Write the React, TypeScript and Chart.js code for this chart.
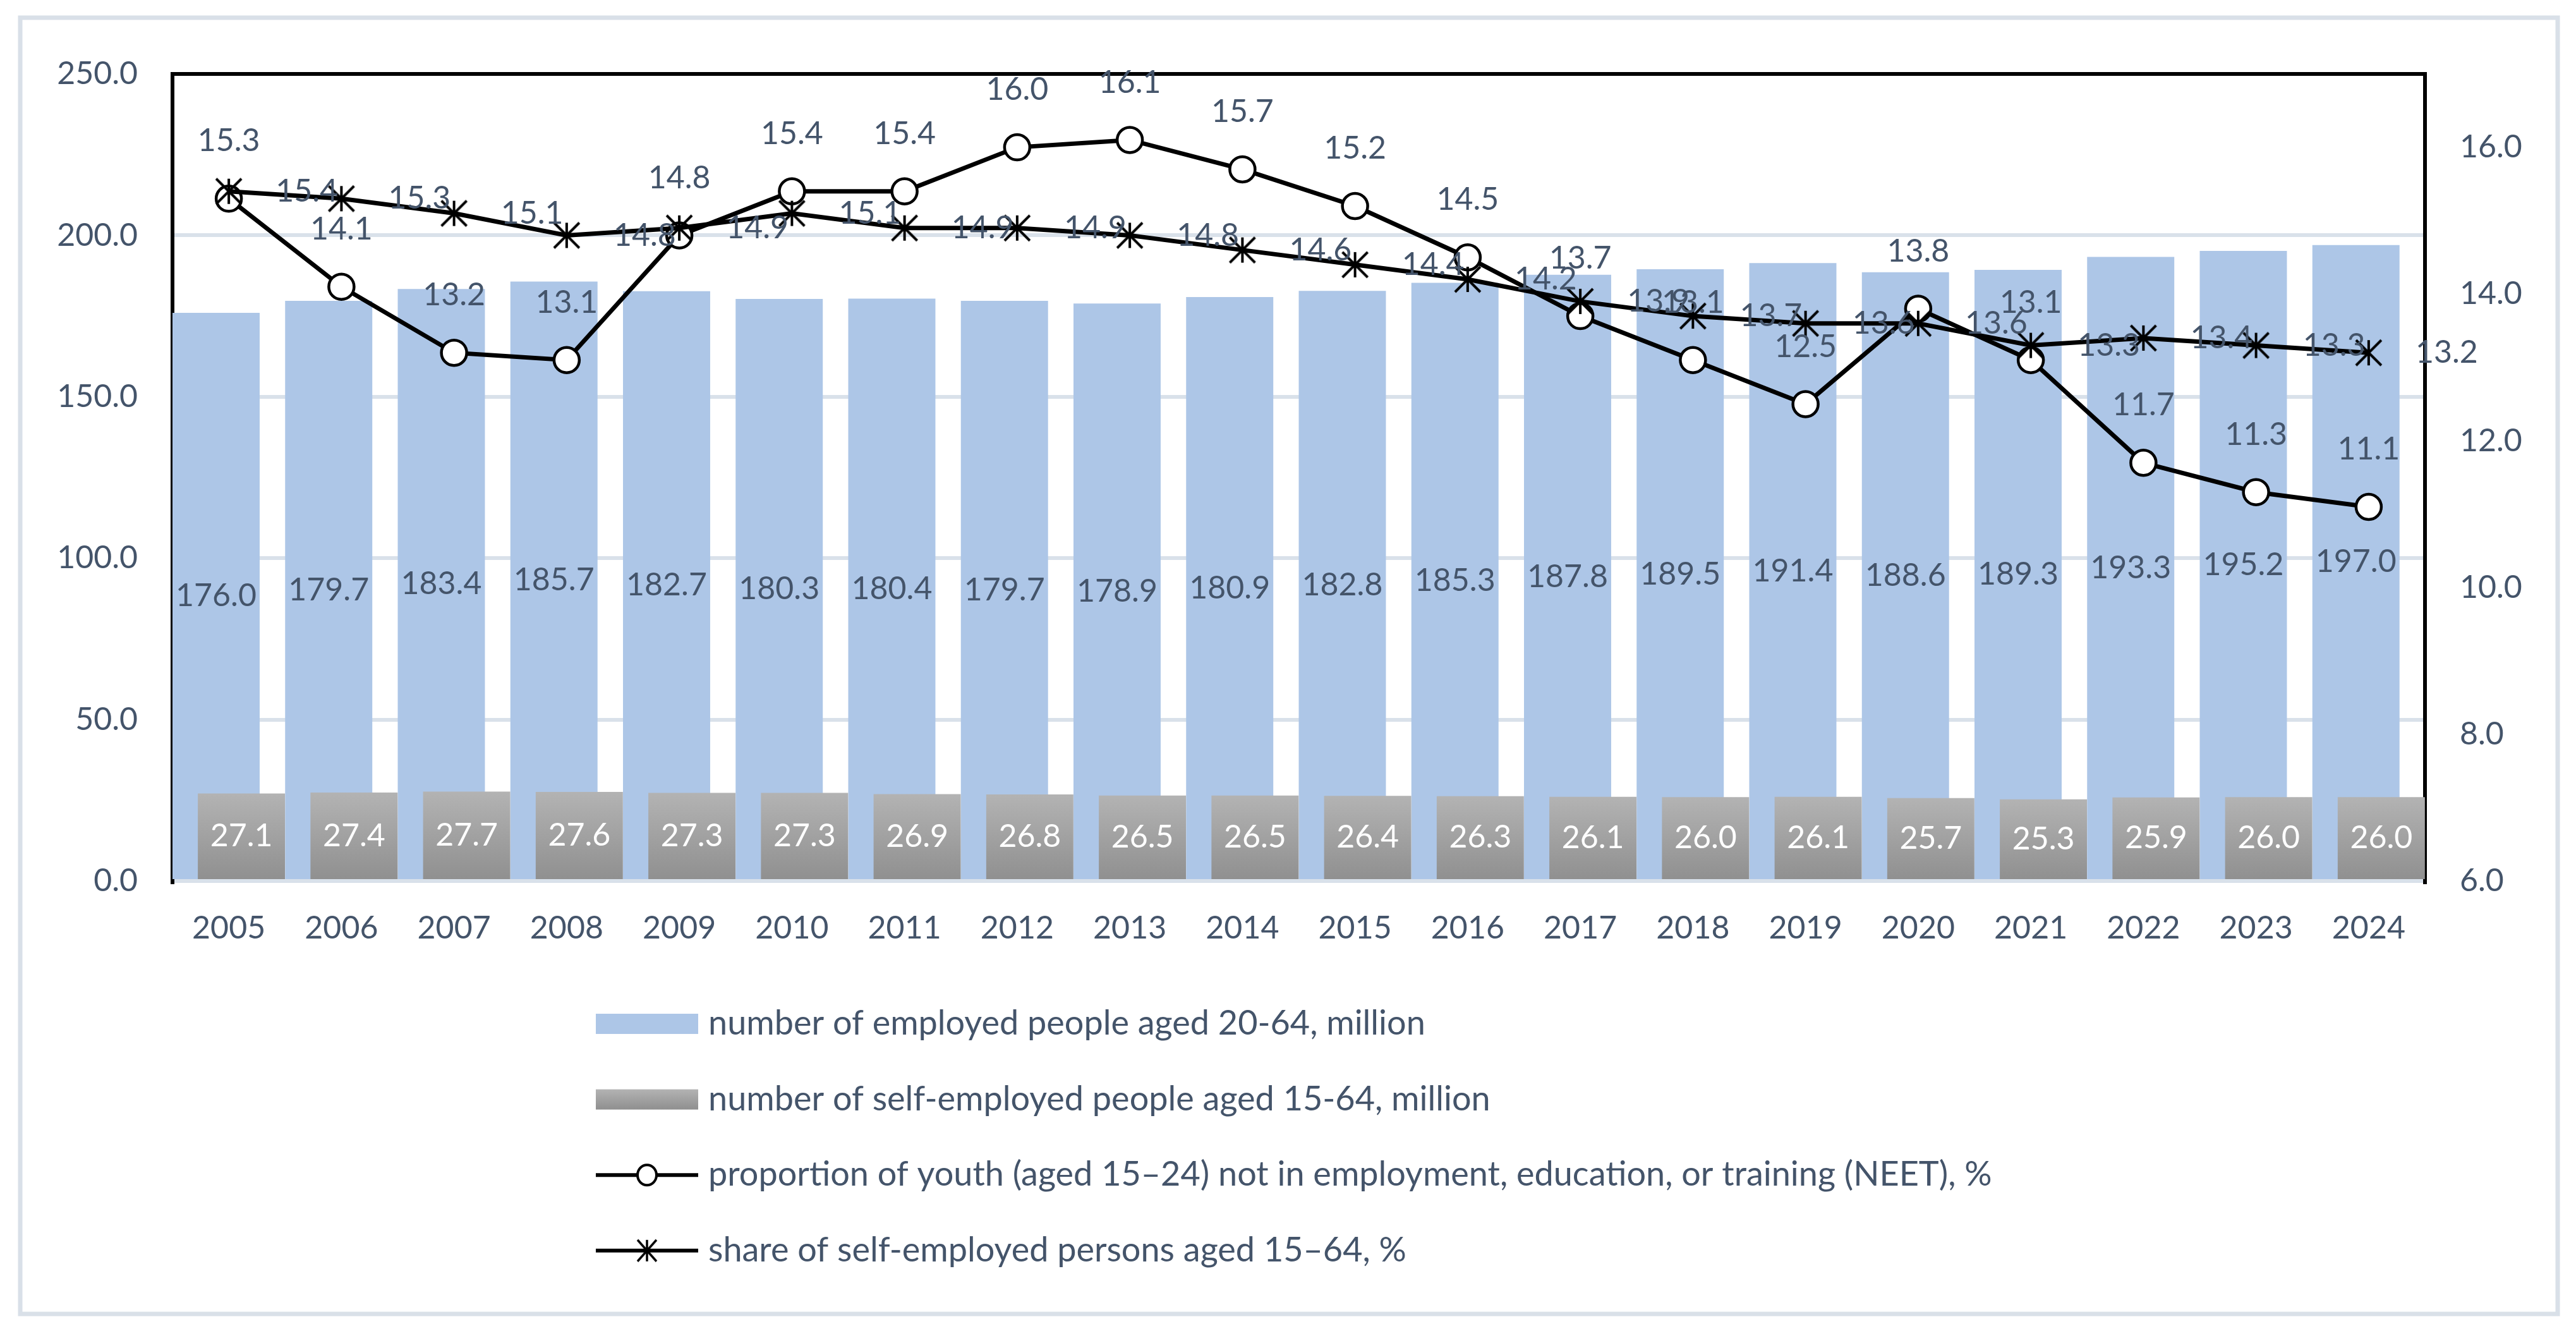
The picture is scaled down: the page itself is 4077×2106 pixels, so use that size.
import React, { useEffect, useRef } from 'react';
import { Chart, registerables } from 'chart.js';

Chart.register(...registerables);

// ---------------- data ----------------
const YEARS = ['2005', '2006', '2007', '2008', '2009', '2010', '2011', '2012', '2013', '2014',
  '2015', '2016', '2017', '2018', '2019', '2020', '2021', '2022', '2023', '2024'];
const EMPLOYED = [176.0, 179.7, 183.4, 185.7, 182.7, 180.3, 180.4, 179.7, 178.9, 180.9,
  182.8, 185.3, 187.8, 189.5, 191.4, 188.6, 189.3, 193.3, 195.2, 197.0];
const SELF_EMPLOYED = [27.1, 27.4, 27.7, 27.6, 27.3, 27.3, 26.9, 26.8, 26.5, 26.5,
  26.4, 26.3, 26.1, 26.0, 26.1, 25.7, 25.3, 25.9, 26.0, 26.0];
const NEET = [15.3, 14.1, 13.2, 13.1, 14.8, 15.4, 15.4, 16.0, 16.1, 15.7,
  15.2, 14.5, 13.7, 13.1, 12.5, 13.8, 13.1, 11.7, 11.3, 11.1];
const SELF_SHARE = [15.4, 15.3, 15.1, 14.8, 14.9, 15.1, 14.9, 14.9, 14.8, 14.6,
  14.4, 14.2, 13.9, 13.7, 13.6, 13.6, 13.3, 13.4, 13.3, 13.2];
const SERIES_NAMES = [
  'number of employed people aged 20-64, million',
  'number of self-employed people aged 15-64, million',
  'proportion of youth (aged 15\u201324) not in employment, education, or training (NEET), %',
  'share of self-employed persons aged 15\u201364, %',
];
const LEFT_AXIS = { min: 0, max: 250, step: 50 };
const RIGHT_AXIS = { min: 6, max: 17, step: 2 };

// ---------------- styles / layout ----------------
const W = 4077;
const H = 2106;
const FONT = 'Lato, "Open Sans", "Noto Sans", sans-serif';
const FS = 50;
const LEGEND_FS = 54;
const TEXT = '#44546A';
const BLUE = '#ADC6E7';
const GRAY_TOP = '#B3B3B3';
const GRAY_BOTTOM = '#8F8F8F';
const GRID = '#D9E1EA';
const FRAME = '#D9E0E8';
const BAR_SHIFT = [-0.113, 0.112]; // fraction of category width
const PLOT = { left: 273, right: 3838, top: 117, bottom: 1394 };
const LEGEND = { x: 943, y0: 1620, dy: 119.6, symW: 162, textX: 1121 };

function makeStar(size: number, rx: number, ry: number, lw: number) {
  const c = document.createElement('canvas');
  c.width = size;
  c.height = size;
  const g = c.getContext('2d')!;
  const m = size / 2;
  g.strokeStyle = '#000';
  g.lineWidth = lw;
  g.beginPath();
  g.moveTo(m, m - ry); g.lineTo(m, m + ry);
  g.moveTo(m - rx, m - ry); g.lineTo(m + rx, m + ry);
  g.moveTo(m + rx, m - ry); g.lineTo(m - rx, m + ry);
  g.stroke();
  return c;
}

const fmt = (v: number) => v.toFixed(1);

export default function App() {
  const ref = useRef<HTMLCanvasElement>(null);

  useEffect(() => {
    const canvas = ref.current!;
    const star = makeStar(50, 20, 20, 4);
    const starSmall = makeStar(40, 15, 17, 3.5);

    const grayFill = (c: any) => {
      const chart = c.chart;
      const y = chart.scales && chart.scales.y;
      if (!y || c.type !== 'data') return GRAY_TOP;
      const v = c.raw as number;
      const y0 = y.getPixelForValue(v);
      const y1 = y.getPixelForValue(0);
      if (!isFinite(y0) || !isFinite(y1) || y0 === y1) return GRAY_TOP;
      const g = chart.ctx.createLinearGradient(0, y0, 0, y1);
      g.addColorStop(0, GRAY_TOP);
      g.addColorStop(1, GRAY_BOTTOM);
      return g;
    };

    const framePlugin = {
      id: 'frame',
      beforeDraw(chart: any) {
        const ctx = chart.ctx;
        ctx.save();
        ctx.fillStyle = '#fff';
        ctx.fillRect(0, 0, W, H);
        ctx.strokeStyle = FRAME;
        ctx.lineWidth = 7;
        ctx.strokeRect(32, 28, 4016, 2051);
        ctx.restore();
      },
      beforeDatasetsDraw(chart: any) {
        const { left, right, top, bottom } = chart.chartArea;
        const ctx = chart.ctx;
        ctx.save();
        ctx.strokeStyle = '#000';
        ctx.lineWidth = 6;
        ctx.beginPath();
        ctx.moveTo(left, bottom + 5);
        ctx.lineTo(left, top);
        ctx.lineTo(right, top);
        ctx.lineTo(right, bottom + 5);
        ctx.stroke();
        ctx.restore();
      },
    };

    const shiftPlugin = {
      id: 'barShift',
      afterDatasetsUpdate(chart: any) {
        const xs = chart.scales.x;
        const cw = xs.getPixelForValue(1) - xs.getPixelForValue(0);
        BAR_SHIFT.forEach((s, i) => {
          const meta = chart.getDatasetMeta(i);
          meta.data.forEach((el: any) => { el.x += s * cw; });
        });
      },
    };

    const labelPlugin = {
      id: 'valueLabels',
      afterDatasetsDraw(chart: any) {
        const ctx = chart.ctx;
        ctx.save();
        ctx.font = `${FS}px ${FONT}`;
        chart.data.datasets.forEach((ds: any, i: number) => {
          const meta = chart.getDatasetMeta(i);
          meta.data.forEach((el: any, j: number) => {
            const t = fmt(ds.data[j]);
            if (i === 0 || i === 1) {
              ctx.fillStyle = i === 0 ? TEXT : '#FFFFFF';
              ctx.textAlign = 'center';
              ctx.textBaseline = 'middle';
              ctx.fillText(t, el.x, (el.y + el.base) / 2);
            } else if (i === 2) {
              ctx.fillStyle = TEXT;
              ctx.textAlign = 'center';
              ctx.textBaseline = 'middle';
              ctx.fillText(t, el.x, el.y - 91);
            } else {
              ctx.fillStyle = TEXT;
              ctx.textAlign = 'left';
              ctx.textBaseline = 'middle';
              ctx.fillText(t, el.x + 74, el.y);
            }
          });
        });
        ctx.restore();
      },
    };

    const legendPlugin = {
      id: 'customLegend',
      afterDraw(chart: any) {
        const ctx = chart.ctx;
        ctx.save();
        SERIES_NAMES.forEach((name, i) => {
          const cy = LEGEND.y0 + i * LEGEND.dy;
          const x0 = LEGEND.x;
          const x1 = LEGEND.x + LEGEND.symW;
          if (i === 0) {
            ctx.fillStyle = BLUE;
            ctx.fillRect(x0, cy - 16, LEGEND.symW, 32);
          } else if (i === 1) {
            const g = ctx.createLinearGradient(0, cy - 16, 0, cy + 16);
            g.addColorStop(0, GRAY_TOP);
            g.addColorStop(1, GRAY_BOTTOM);
            ctx.fillStyle = g;
            ctx.fillRect(x0, cy - 16, LEGEND.symW, 32);
          } else {
            ctx.strokeStyle = '#000';
            ctx.lineWidth = 6;
            ctx.beginPath();
            ctx.moveTo(x0, cy);
            ctx.lineTo(x1, cy);
            ctx.stroke();
            const mx = (x0 + x1) / 2;
            if (i === 2) {
              ctx.fillStyle = '#fff';
              ctx.lineWidth = 4;
              ctx.beginPath();
              ctx.ellipse(mx, cy, 15, 16, 0, 0, Math.PI * 2);
              ctx.fill();
              ctx.stroke();
            } else {
              ctx.drawImage(starSmall, mx - starSmall.width / 2, cy - starSmall.height / 2);
            }
          }
          ctx.fillStyle = TEXT;
          ctx.font = `${LEGEND_FS}px ${FONT}`;
          ctx.textAlign = 'left';
          ctx.textBaseline = 'alphabetic';
          ctx.fillText(name, LEGEND.textX, cy + 17);
        });
        ctx.restore();
      },
    };

    const chart = new Chart(canvas, {
      type: 'bar',
      data: {
        labels: YEARS,
        datasets: [
          {
            type: 'bar',
            label: SERIES_NAMES[0],
            data: EMPLOYED,
            backgroundColor: BLUE,
            yAxisID: 'y',
            grouped: false,
            categoryPercentage: 1,
            barPercentage: 0.774,
            order: 3,
          } as any,
          {
            type: 'bar',
            label: SERIES_NAMES[1],
            data: SELF_EMPLOYED,
            backgroundColor: grayFill,
            yAxisID: 'y',
            grouped: false,
            categoryPercentage: 1,
            barPercentage: 0.774,
            order: 2,
          } as any,
          {
            type: 'line',
            label: SERIES_NAMES[2],
            data: NEET,
            yAxisID: 'y2',
            borderColor: '#000',
            borderWidth: 7,
            pointStyle: 'circle',
            pointRadius: 20,
            pointBackgroundColor: '#fff',
            pointBorderColor: '#000',
            pointBorderWidth: 4.5,
            tension: 0,
            fill: false,
            clip: false,
            order: 1,
          } as any,
          {
            type: 'line',
            label: SERIES_NAMES[3],
            data: SELF_SHARE,
            yAxisID: 'y2',
            borderColor: '#000',
            borderWidth: 7,
            pointStyle: star,
            pointRadius: 20,
            tension: 0,
            fill: false,
            clip: false,
            order: 0,
          } as any,
        ],
      },
      options: {
        responsive: false,
        devicePixelRatio: 1,
        animation: false,
        events: [],
        layout: { padding: { top: PLOT.top, left: 0, right: 0, bottom: 0 } },
        plugins: {
          legend: { display: false },
          tooltip: { enabled: false },
          title: { display: false },
        },
        scales: {
          x: {
            type: 'category',
            offset: true,
            grid: { display: false, drawTicks: false },
            border: { display: false },
            ticks: {
              color: TEXT,
              font: { family: FONT, size: FS },
              padding: 45,
              maxRotation: 0,
              autoSkip: false,
            },
            afterFit: (s: any) => { s.height = H - PLOT.bottom; },
          },
          y: {
            type: 'linear',
            position: 'left',
            min: LEFT_AXIS.min,
            max: LEFT_AXIS.max,
            grid: { color: GRID, lineWidth: 6, drawTicks: false },
            border: { display: false },
            ticks: {
              stepSize: LEFT_AXIS.step,
              color: TEXT,
              font: { family: FONT, size: FS },
              padding: 55,
              callback: (v: any) => Number(v).toFixed(1),
            },
            afterFit: (s: any) => { s.width = PLOT.left; },
          },
          y2: {
            type: 'linear',
            position: 'right',
            min: RIGHT_AXIS.min,
            max: RIGHT_AXIS.max,
            grid: { display: false, drawTicks: false },
            border: { display: false },
            ticks: {
              stepSize: RIGHT_AXIS.step,
              includeBounds: false,
              color: TEXT,
              font: { family: FONT, size: FS },
              padding: 55,
              callback: (v: any) => Number(v).toFixed(1),
            },
            afterFit: (s: any) => { s.width = W - PLOT.right; },
          },
        },
      } as any,
      plugins: [framePlugin, shiftPlugin, labelPlugin, legendPlugin],
    });

    return () => chart.destroy();
  }, []);

  return (
    <div style={{ position: 'absolute', left: 0, top: 0, width: W, height: H, background: '#fff' }}>
      <canvas ref={ref} width={W} height={H} style={{ width: W, height: H, display: 'block' }} />
    </div>
  );
}
